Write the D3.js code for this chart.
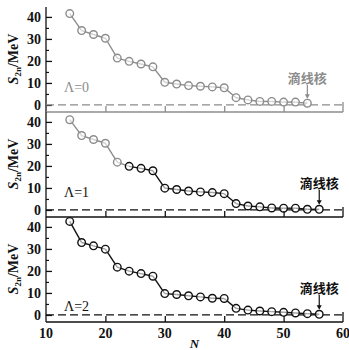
<!DOCTYPE html>
<html>
<head>
<meta charset="utf-8">
<script src="https://cdn.jsdelivr.net/npm/d3@7"></script>
<style>
  body { margin: 0; background: #fff; }
  svg { display: block; }
</style>
</head>
<body>
<div id="chart"></div>
<script>
const nValues = [14, 16, 18, 20, 22, 24, 26, 28, 30, 32, 34, 36, 38, 40, 42, 44, 46, 48, 50, 52, 54, 56];
const s2nLambda0 = [41.5, 33.8, 32, 30.3, 21.3, 19.8, 18.6, 17.3, 10.3, 9.5, 8.8, 8.5, 8.2, 7.8, 3.3, 2.3, 1.6, 1.6, 1.3, 1.3, 0.8];
const s2nLambda1 = [41, 33.8, 32, 30.3, 21.7, 19.8, 18.9, 17.8, 9.9, 9.3, 8.6, 8.2, 7.9, 7.4, 2.9, 1.8, 1.4, 0.9, 0.8, 0.8, 0.3, 0.3];
const s2nLambda2 = [42.5, 32.9, 31.4, 29.9, 21.7, 19.9, 18.8, 17.6, 9.7, 9.3, 8.7, 8.2, 7.6, 7.5, 3.0, 2.2, 1.8, 1.5, 1.2, 0.9, 0.6, 0.3];
const lambdaLabels = ["Λ=0", "Λ=1", "Λ=2"];
const xTicks = [10, 20, 30, 40, 50, 60];
const yTicks = [0, 10, 20, 30, 40];
const yMinorTicks = [5, 15, 25, 35];
const dripLabel = "滴线核";

const width = 349;
const height = 350;
const panelTops = [7, 112, 217];
const panelH = 105;
const gray = "#8c8c8c";
const serif = "'Liberation Serif', 'DejaVu Serif', serif";

const svg = d3.select("#chart")
    .append("svg")
    .attr("width", width)
    .attr("height", height);

const x = d3.scaleLinear().domain([10, 60]).range([46, 343]);

const panels = [
    { values: s2nLambda0, color: () => gray, axisColor: gray, label: lambdaLabels[0], labelY: 8 },
    { values: s2nLambda1, color: i => (i <= 4 ? gray : "#111"), axisColor: "#111", label: lambdaLabels[1], labelY: 8 },
    { values: s2nLambda2, color: () => "#111", axisColor: "#111", label: lambdaLabels[2], labelY: 4 }
];

panels.forEach((p, k) => {
    const top = panelTops[k];
    const y = d3.scaleLinear().domain([-3.2, 44.5]).range([top + panelH, top]);
    const g = svg.append("g");

    // Left axis, ticks pointing inward
    const yAxis = g.append("g")
        .attr("transform", `translate(${x(10)},0)`)
        .call(d3.axisRight(y).tickValues(yTicks).tickSize(6).tickFormat(""));
    yAxis.select(".domain").attr("d", `M0,${top}V${top + panelH}`).attr("stroke", "#111").attr("stroke-width", 1.3);
    yAxis.selectAll(".tick line").attr("stroke", "#111").attr("stroke-width", 1.3);

    const yMinor = g.append("g")
        .attr("transform", `translate(${x(10)},0)`)
        .call(d3.axisRight(y).tickValues(yMinorTicks).tickSize(3).tickFormat(""));
    yMinor.select(".domain").remove();
    yMinor.selectAll(".tick line").attr("stroke", "#111").attr("stroke-width", 1.2);

    g.selectAll(".ylab")
        .data(yTicks)
        .enter()
        .append("text")
        .attr("x", x(10) - 5)
        .attr("y", d => y(d))
        .attr("dy", "0.35em")
        .attr("text-anchor", "end")
        .style("font-family", serif)
        .attr("font-weight", "bold")
        .attr("font-size", 14)
        .attr("fill", "#111")
        .text(d => d);

    // Bottom axis, ticks pointing up
    const xAxis = g.append("g")
        .attr("transform", `translate(0,${top + panelH})`)
        .call(d3.axisTop(x).tickValues(xTicks.slice(1, -1)).tickSize(6).tickFormat(""));
    xAxis.select(".domain").attr("d", `M${x(10)},0H${x(60)}`).attr("stroke", p.axisColor).attr("stroke-width", 1.5);
    xAxis.selectAll(".tick line").attr("stroke", p.axisColor).attr("stroke-width", 1.3);

    // short right edge
    g.append("line")
        .attr("x1", x(60)).attr("x2", x(60))
        .attr("y1", y(0) - 3).attr("y2", top + panelH)
        .attr("stroke", p.axisColor)
        .attr("stroke-width", 1.3);

    // zero dashed line
    g.append("line")
        .attr("x1", x(10)).attr("x2", x(60))
        .attr("y1", y(0)).attr("y2", y(0))
        .attr("stroke", p.axisColor)
        .attr("stroke-width", 1.3)
        .attr("stroke-dasharray", "8,4");

    const pts = p.values.map((v, i) => ({ n: nValues[i], v, i }));
    const line = d3.line().x(d => x(d.n)).y(d => y(d.v));

    // line segments
    for (let i = 0; i < pts.length - 1; i++) {
        g.append("path")
            .attr("d", line([pts[i], pts[i + 1]]))
            .attr("fill", "none")
            .attr("stroke", p.color(i))
            .attr("stroke-width", 1.4);
    }

    g.selectAll(".pt")
        .data(pts)
        .enter()
        .append("circle")
        .attr("cx", d => x(d.n))
        .attr("cy", d => y(d.v))
        .attr("r", 3.8)
        .attr("fill", "#fff")
        .attr("fill-opacity", 0.6)
        .attr("stroke", d => p.color(d.i))
        .attr("stroke-width", 1.4);

    // Lambda label
    g.append("text")
        .attr("x", 64)
        .attr("y", y(p.labelY))
        .attr("dy", "0.35em")
        .style("font-family", serif)
        .attr("font-size", 14)
        .attr("fill", p.axisColor)
        .text(p.label);

    // drip-line annotation
    const last = pts[pts.length - 1];
    const ax = x(last.n);
    const textColor = k === 0 ? gray : "#111";
    g.append("text")
        .attr("x", ax)
        .attr("y", y(0) - 22)
        .attr("text-anchor", "middle")
        .style("font-family", "'Noto Sans CJK SC', sans-serif")
        .attr("font-weight", "bold")
        .attr("font-size", 13)
        .attr("fill", textColor)
        .text(dripLabel);
    g.append("line")
        .attr("x1", ax).attr("x2", ax)
        .attr("y1", y(0) - 20).attr("y2", y(last.v) - 7)
        .attr("stroke", textColor)
        .attr("stroke-width", 1.2);
    g.append("path")
        .attr("d", `M${ax - 2.5},${y(last.v) - 9}L${ax + 2.5},${y(last.v) - 9}L${ax},${y(last.v) - 4.5}Z`)
        .attr("fill", textColor);

    // Y axis title
    const cy = top + 52;
    const title = g.append("text")
        .attr("transform", `translate(18,${cy}) rotate(-90)`)
        .attr("text-anchor", "middle")
        .style("font-family", serif)
        .attr("font-weight", "bold")
        .attr("font-size", 14)
        .attr("fill", "#111");
    title.append("tspan").attr("font-style", "italic").text("S");
    title.append("tspan").attr("font-size", 9).attr("dy", 3).text("2n");
    title.append("tspan").attr("dy", -3).text("/MeV");
});

// bottom tick labels
svg.selectAll(".xlab")
    .data(xTicks)
    .enter()
    .append("text")
    .attr("x", d => x(d))
    .attr("y", panelTops[2] + panelH + 16)
    .attr("text-anchor", "middle")
    .style("font-family", serif)
    .attr("font-weight", "bold")
    .attr("font-size", 14)
    .attr("fill", "#111")
    .text(d => d);

svg.append("text")
    .attr("x", x(35))
    .attr("y", 348)
    .attr("text-anchor", "middle")
    .style("font-family", serif)
    .attr("font-style", "italic")
    .attr("font-weight", "bold")
    .attr("font-size", 13)
    .attr("fill", "#111")
    .text("N");
</script>
</body>
</html>
